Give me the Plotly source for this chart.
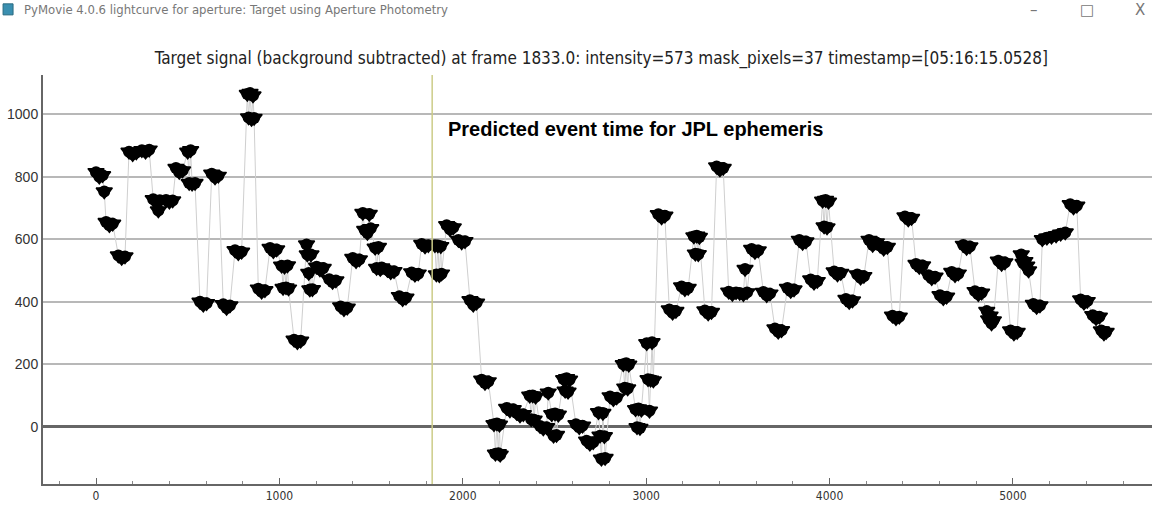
import plotly.graph_objects as go

# light curve (frame, background-subtracted intensity)
frame = [
    0, 18, 36, 45,
    55, 73, 91,
    122, 140, 158,
    180, 200, 220,
    250, 270, 290,
    312, 330, 340, 348,
    382, 400, 418,
    436, 454, 472,
    500, 508, 516, 524, 540,
    567, 585, 603,
    631, 649, 667,
    694, 712, 730,
    758, 776, 794,
    825, 832, 840, 848, 856, 862,
    885, 903, 921,
    949, 967, 985,
    1012, 1020, 1028, 1036, 1044, 1050,
    1080, 1098, 1116,
    1148, 1152, 1160, 1166, 1172, 1180,
    1203, 1221, 1239,
    1272, 1290, 1308,
    1334, 1352, 1370,
    1400, 1418, 1436,
    1455, 1465, 1480, 1490, 1498,
    1522, 1530, 1540, 1550, 1558,
    1589, 1607, 1625,
    1654, 1672, 1690,
    1721, 1739, 1757,
    1776, 1794, 1812,
    1848, 1856, 1864, 1872, 1880, 1884,
    1912, 1930, 1948,
    1976, 1994, 2012,
    2039, 2057, 2075,
    2103, 2121, 2139,
    2170, 2178, 2186, 2194, 2200, 2204,
    2239, 2257, 2275,
    2294, 2312, 2330,
    2365, 2373, 2381, 2389, 2397,
    2421, 2439, 2457, 2466,
    2485, 2495, 2503, 2511, 2521,
    2550, 2558, 2566, 2574, 2582,
    2617, 2635, 2653,
    2675, 2693, 2711,
    2740, 2748, 2756, 2764, 2772, 2776,
    2803, 2821, 2839,
    2875, 2883, 2891, 2899, 2905,
    2942, 2950, 2958, 2966, 2974,
    3003, 3010, 3018, 3024, 3032, 3039,
    3066, 3084, 3102,
    3126, 3144, 3162,
    3193, 3211, 3229,
    3260, 3268, 3276, 3284, 3290,
    3320, 3338, 3356,
    3384, 3402, 3420,
    3450, 3470, 3490,
    3510, 3530, 3539, 3550,
    3575, 3593, 3611,
    3639, 3657, 3675,
    3702, 3720, 3738,
    3770, 3788, 3806,
    3835, 3853, 3871,
    3897, 3915, 3933,
    3962, 3970, 3978, 3986, 3994,
    4025, 4043, 4061,
    4089, 4107, 4125,
    4151, 4169, 4187,
    4215, 4235, 4255,
    4275, 4295, 4315,
    4343, 4362, 4380,
    4411, 4429, 4447,
    4471, 4489, 4507,
    4539, 4557, 4575,
    4602, 4620, 4638,
    4666, 4684, 4702,
    4729, 4747, 4765,
    4793, 4811, 4829,
    4857, 4867, 4875, 4883, 4893,
    4920, 4938, 4956,
    4987, 5005, 5023,
    5045, 5055, 5065, 5075, 5085,
    5111, 5129, 5147,
    5160, 5185, 5210, 5235, 5260, 5285,
    5312, 5330, 5348,
    5369, 5387, 5405,
    5435, 5453, 5471,
    5482, 5496, 5508,
]

intensity = [
    815, 800, 805, 753,
    655, 645, 650,
    548, 540, 545,
    880, 872, 878,
    885, 880, 887,
    728, 720, 692, 725,
    726, 720, 724,
    828, 815, 820,
    880, 780, 885, 778, 780,
    400, 390, 395,
    810, 798, 803,
    392, 380, 388,
    565, 555, 560,
    1065, 990, 1068, 985, 1060, 988,
    442, 432, 437,
    572, 562, 567,
    515, 444, 512, 446, 516, 442,
    278, 270, 275,
    583, 551, 492, 439, 551, 440,
    512, 503, 508,
    472, 463, 468,
    385, 376, 381,
    540, 530, 535,
    684, 630, 620, 681, 635,
    573, 508, 575, 505, 510,
    502, 494, 498,
    418, 408, 413,
    494, 486, 490,
    585, 577, 581,
    581, 487, 580, 485, 578, 490,
    645, 632, 638,
    598, 590, 594,
    405, 390, 397,
    150, 140, 145,
    8, -87, 10, -85, 6, -90,
    60, 52, 56,
    44, 36, 40,
    99, 24, 100, 22, 96,
    2, -6, -2, 109,
    40, -29, 42, -27, 38,
    152, 115, 155, 112, 150,
    8, -2, 3,
    -45, -55, -50,
    46, -29, -103, 44, -31, -100,
    97, 88, 93,
    200, 125, 203, 122, 198,
    56, -2, 58, -4, 54,
    267, 152, 51, 150, 270, 148,
    680, 670, 675,
    375, 365, 370,
    449, 440, 444,
    609, 554, 611, 552, 607,
    372, 362, 367,
    833, 823, 828,
    432, 425, 430,
    428, 424, 505, 430,
    569, 559, 564,
    431, 421, 426,
    314, 304, 309,
    444, 434, 439,
    598, 588, 593,
    471, 461, 466,
    723, 641, 726, 638, 720,
    497, 487, 492,
    409, 399, 404,
    487, 477, 482,
    598, 582, 590,
    580, 570, 575,
    355, 347, 352,
    673, 663, 668,
    521, 511, 516,
    485, 475, 480,
    421, 411, 416,
    495, 485, 490,
    582, 572, 577,
    434, 424, 429,
    370, 343, 355, 330, 340,
    531, 521, 526,
    308, 298, 303,
    551, 524, 530, 515, 500,
    393, 383, 388,
    600, 605, 608, 612, 618, 622,
    712, 702, 707,
    407, 397, 402,
    357, 347, 352,
    308, 298, 303,
]

event_frame = 1833
window_title = "PyMovie 4.0.6 lightcurve for aperture: Target using Aperture Photometry"
plot_title = ("Target signal (background subtracted) at frame 1833.0: intensity=573 "
              "mask_pixels=37 timestamp=[05:16:15.0528]")
event_label = "Predicted event time for JPL ephemeris"

fig = go.Figure()
fig.add_trace(go.Scatter(
    x=frame, y=intensity, mode="lines+markers",
    line=dict(color="#cfcfcf", width=1),
    marker=dict(symbol="triangle-down", size=14, color="black",
                line=dict(color="black", width=1.5)),
    showlegend=False,
))
# the overlapping symbols in the original merge into rounded clumps
fig.add_trace(go.Scatter(
    x=frame, y=intensity, mode="markers",
    marker=dict(symbol="circle", size=12, color="black"),
    showlegend=False, hoverinfo="skip",
))

fig.add_vline(x=event_frame, line=dict(color="#cccc88", width=1.5))

fig.add_annotation(x=event_frame, y=1000, xref="x", yref="y", text="<b>" + event_label + "</b>",
                   showarrow=False, xanchor="left", yanchor="top", xshift=14, yshift=-2,
                   font=dict(family="Liberation Sans, Arial", size=20, color="black"))

# window chrome and title bar
fig.add_annotation(x=-0.019, y=1.159, xref="paper", yref="paper", text=window_title,
                   showarrow=False, xanchor="left", yanchor="middle",
                   font=dict(family="DejaVu Sans Condensed, Open Sans", size=13, color="#777777"))
for sym, xp in [("\u2013", 0.8936), ("\u25a1", 0.9414), ("X", 0.9892)]:
    fig.add_annotation(x=xp, y=1.159, xref="paper", yref="paper", text=sym,
                       showarrow=False, xanchor="center", yanchor="middle",
                       font=dict(family="DejaVu Sans", size=15, color="#777777"))
fig.add_shape(type="rect", xref="paper", yref="paper", x0=-0.036, x1=-0.027,
              y0=1.147, y1=1.174, fillcolor="#3a8fb0", line=dict(color="#2a6a80", width=1))

fig.update_layout(
    width=1152, height=510,
    margin=dict(l=43, r=0, t=75, b=26, autoexpand=False),
    paper_bgcolor="white", plot_bgcolor="white",
    title=dict(text=plot_title, x=0.522, xanchor="center", y=0.886, yanchor="middle",
               font=dict(family="DejaVu Sans Condensed, Open Sans", size=17, color="#222222")),
)
fig.update_xaxes(range=[-289, 5758], dtick=1000, showgrid=False, zeroline=False,
                 showline=True, linecolor="#666666", linewidth=2, automargin=False,
                 ticks="inside", ticklen=6, tickcolor="#666666",
                 minor=dict(dtick=200, ticks="inside", ticklen=3, tickcolor="#888888"),
                 tickfont=dict(family="DejaVu Sans Condensed, Open Sans", size=12, color="#333333"))
fig.update_yaxes(range=[-183.5, 1126], dtick=200, showgrid=True, gridcolor="#b8b8b8", gridwidth=1.5,
                 zeroline=True, zerolinecolor="#666666", zerolinewidth=2.5, automargin=False,
                 showline=True, linecolor="#666666", linewidth=2, ticks="",
                 tickfont=dict(family="Liberation Sans, Arial", size=14, color="#333333"))

fig.write_html("out.html", config={"displayModeBar": False},
               post_script="document.body.style.margin='0px';")
